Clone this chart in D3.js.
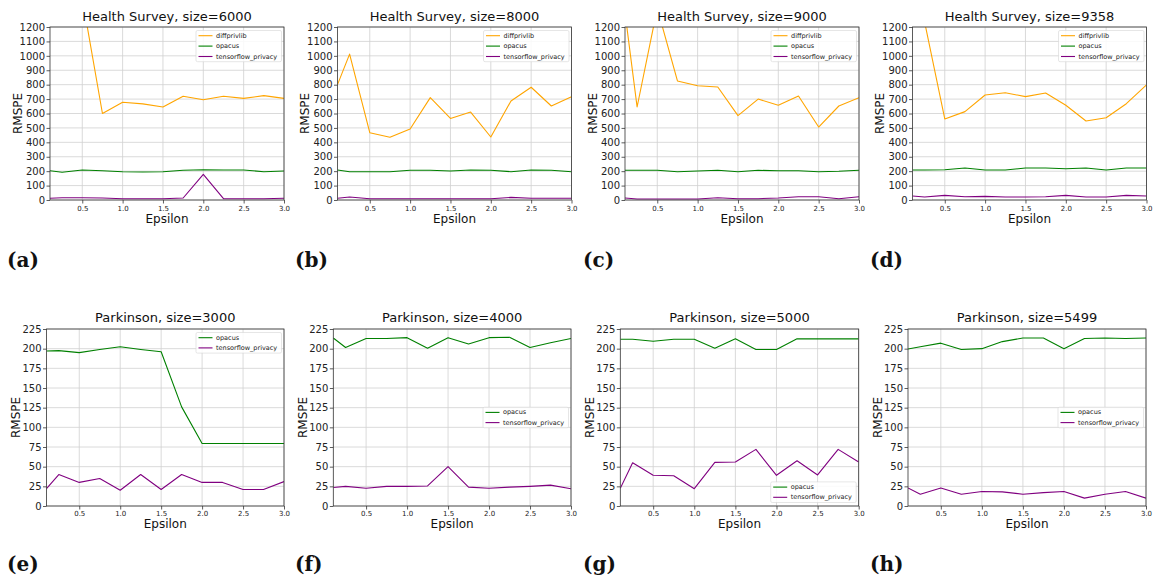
<!DOCTYPE html>
<html>
<head>
<meta charset="utf-8">
<script src="https://cdn.jsdelivr.net/npm/d3@7"></script>
<style>
  body { margin: 0; background: #fff; }
  svg { display: block; font-family: "DejaVu Sans", sans-serif; }
</style>
</head>
<body>
<svg id="fig" width="1153" height="579"></svg>
<script>
// Privacy budgets evaluated for every run
const epsilons = [0.1, 0.25, 0.5, 0.75, 1.0, 1.25, 1.5, 1.75, 2.0, 2.25, 2.5, 2.75, 3.0];

// Health Survey RMSPE per library
const hs6000Diffprivlib = [2400, 1700, 1400, 600, 678, 667, 645, 720, 695, 720, 705, 724, 705];
const hs6000Opacus      = [203, 192, 208, 203, 196, 194, 196, 206, 210, 208, 208, 196, 201];
const hs6000Tf          = [12, 16, 16, 14, 9, 9, 9, 14, 178, 9, 9, 9, 12];

const hs8000Diffprivlib = [800, 1012, 467, 435, 493, 710, 566, 610, 437, 687, 782, 652, 717];
const hs8000Opacus      = [208, 196, 196, 196, 206, 206, 201, 208, 206, 196, 208, 206, 196];
const hs8000Tf          = [12, 21, 9, 9, 9, 9, 9, 9, 9, 18, 12, 12, 12];

const hs9000Diffprivlib = [1300, 645, 1330, 826, 793, 784, 585, 700, 657, 721, 506, 652, 710];
const hs9000Opacus      = [206, 206, 206, 196, 201, 206, 196, 206, 203, 203, 196, 199, 206];
const hs9000Tf          = [14, 7, 7, 7, 7, 16, 9, 9, 14, 23, 23, 9, 23];

const hs9358Diffprivlib = [1600, 1235, 562, 613, 728, 744, 717, 742, 657, 548, 571, 668, 798];
const hs9358Opacus      = [208, 208, 210, 222, 208, 208, 222, 222, 217, 222, 208, 222, 222];
const hs9358Tf          = [28, 21, 32, 23, 25, 21, 21, 23, 32, 21, 21, 32, 28];

// Parkinson RMSPE per library
const pk3000Opacus = [197, 197.5, 195, 199, 202.5, 199, 196, 126, 79.5, 79.5, 79.5, 79.5, 79.5];
const pk3000Tf     = [22, 40, 30, 35, 20, 40, 21, 40, 30, 30, 21, 21, 31];

const pk4000Opacus = [213.5, 201.5, 213, 213, 214, 200.5, 214, 206, 214, 214.5, 201.5, 207.5, 213];
const pk4000Tf     = [23.5, 25, 22.5, 25, 25, 25.5, 50, 24, 22.5, 24, 25, 26.5, 22];

const pk5000Opacus = [212, 212, 209.5, 212, 212, 200.5, 212.5, 199, 199, 212.5, 212.5, 212.5, 212.5];
const pk5000Tf     = [22.5, 55, 39, 38.5, 22, 55.5, 56, 72, 39, 57.5, 39.5, 72, 56];

const pk5499Opacus = [199.5, 202.5, 207, 199, 200, 209, 213.5, 213.5, 200, 213, 213.5, 213, 213.5];
const pk5499Tf     = [23, 15, 23, 15, 18.5, 18, 15, 17, 18.5, 10, 15, 18.5, 10];

// Tick labels
const xTicks = [0.5, 1.0, 1.5, 2.0, 2.5, 3.0];
const hsYTicks = [0, 100, 200, 300, 400, 500, 600, 700, 800, 900, 1000, 1100, 1200];
const pkYTicks = [0, 25, 50, 75, 100, 125, 150, 175, 200, 225];

const colors = { diffprivlib: "#ffa500", opacus: "#008000", tensorflow_privacy: "#800080" };

const panels = [
  { tag: "(a)", title: "Health Survey, size=6000", row: 0, col: 0, legend: "upper right",
    series: [["diffprivlib", hs6000Diffprivlib], ["opacus", hs6000Opacus], ["tensorflow_privacy", hs6000Tf]] },
  { tag: "(b)", title: "Health Survey, size=8000", row: 0, col: 1, legend: "upper right",
    series: [["diffprivlib", hs8000Diffprivlib], ["opacus", hs8000Opacus], ["tensorflow_privacy", hs8000Tf]] },
  { tag: "(c)", title: "Health Survey, size=9000", row: 0, col: 2, legend: "upper right",
    series: [["diffprivlib", hs9000Diffprivlib], ["opacus", hs9000Opacus], ["tensorflow_privacy", hs9000Tf]] },
  { tag: "(d)", title: "Health Survey, size=9358", row: 0, col: 3, legend: "upper right",
    series: [["diffprivlib", hs9358Diffprivlib], ["opacus", hs9358Opacus], ["tensorflow_privacy", hs9358Tf]] },
  { tag: "(e)", title: "Parkinson, size=3000", row: 1, col: 0, legend: "upper right",
    series: [["opacus", pk3000Opacus], ["tensorflow_privacy", pk3000Tf]] },
  { tag: "(f)", title: "Parkinson, size=4000", row: 1, col: 1, legend: "center right",
    series: [["opacus", pk4000Opacus], ["tensorflow_privacy", pk4000Tf]] },
  { tag: "(g)", title: "Parkinson, size=5000", row: 1, col: 2, legend: "lower right",
    series: [["opacus", pk5000Opacus], ["tensorflow_privacy", pk5000Tf]] },
  { tag: "(h)", title: "Parkinson, size=5499", row: 1, col: 3, legend: "center right",
    series: [["opacus", pk5499Opacus], ["tensorflow_privacy", pk5499Tf]] }
];

// Geometry of each row of subplots
const rows = [
  { top: 27, bottom: 200, lefts: [50, 337.5, 625, 912.5], rights: [284, 571.5, 859, 1146.5],
    yTicks: hsYTicks, yFont: 10, xFont: 7, xPad: 2.5, legFont: 6.5, legStep: 10.4,
    tagY: 267, titleY: 21, xLabY: 223, yLabOff: 28.3 },
  { top: 329, bottom: 506, lefts: [46.5, 333.3, 620.3, 908], rights: [284, 571, 858.7, 1146],
    yTicks: pkYTicks, yFont: 10, xFont: 7, xPad: 1.5, legFont: 6.5, legStep: 10.2,
    tagY: 571, titleY: 321.5, xLabY: 527.5, yLabOff: 26.5 }
];
const tagX = [7, 295, 583, 870];

const svg = d3.select("#fig");
const defs = svg.append("defs");

panels.forEach((p, i) => {
  const r = rows[p.row];
  const left = r.lefts[p.col], right = r.rights[p.col];
  const x = d3.scaleLinear().domain([0.1, 3.0]).range([left, right]);
  const yTicks = r.yTicks;
  const y = d3.scaleLinear().domain([0, yTicks[yTicks.length - 1]]).range([r.bottom, r.top]);

  const g = svg.append("g");

  // grid
  g.append("g").selectAll("line").data(xTicks).join("line")
    .attr("x1", d => x(d)).attr("x2", d => x(d))
    .attr("y1", r.top).attr("y2", r.bottom)
    .attr("stroke", "#d0d0d0").attr("stroke-width", 0.8);
  g.append("g").selectAll("line").data(yTicks).join("line")
    .attr("x1", left).attr("x2", right)
    .attr("y1", d => y(d)).attr("y2", d => y(d))
    .attr("stroke", "#d0d0d0").attr("stroke-width", 0.8);

  // lines, clipped to the axes box
  const clipId = "clip" + i;
  defs.append("clipPath").attr("id", clipId).append("rect")
    .attr("x", left).attr("y", r.top).attr("width", right - left).attr("height", r.bottom - r.top);
  const line = d3.line().x((d, k) => x(epsilons[k])).y(d => y(d));
  const lg = g.append("g").attr("clip-path", `url(#${clipId})`);
  p.series.forEach(([name, vals]) => {
    lg.append("path").datum(vals).attr("d", line)
      .attr("fill", "none").attr("stroke", colors[name]).attr("stroke-width", 1.1)
      .attr("stroke-linejoin", "round");
  });

  // axes
  const xAxis = d3.axisBottom(x).tickValues(xTicks).tickFormat(d3.format(".1f")).tickSize(3.5).tickPadding(r.xPad);
  const yAxis = d3.axisLeft(y).tickValues(yTicks).tickFormat(d3.format("d")).tickSize(3.5).tickPadding(1.5);
  const gx = g.append("g").attr("transform", `translate(0,${r.bottom})`).call(xAxis);
  const gy = g.append("g").attr("transform", `translate(${left},0)`).call(yAxis);
  [gx, gy].forEach(a => {
    a.select(".domain").remove();
    a.selectAll(".tick line").attr("stroke", "#333").attr("stroke-width", 0.8);
    a.selectAll("text").attr("fill", "#222").attr("font-family", "DejaVu Sans");
  });
  gx.selectAll("text").attr("font-size", r.xFont);
  gy.selectAll("text").attr("font-size", r.yFont);

  // frame
  g.append("rect").attr("x", left).attr("y", r.top)
    .attr("width", right - left).attr("height", r.bottom - r.top)
    .attr("fill", "none").attr("stroke", "#333").attr("stroke-width", 0.8);

  // title and axis labels
  g.append("text").attr("x", (left + right) / 2).attr("y", r.titleY)
    .attr("text-anchor", "middle").attr("font-size", 13).attr("fill", "#111").text(p.title);
  g.append("text").attr("x", (left + right) / 2).attr("y", r.xLabY)
    .attr("text-anchor", "middle").attr("font-size", 12).attr("fill", "#111").text("Epsilon");
  const yc = (r.top + r.bottom) / 2, xl = left - r.yLabOff;
  g.append("text").attr("transform", `translate(${xl},${yc}) rotate(-90)`)
    .attr("text-anchor", "middle")
    .attr("font-size", 12).attr("fill", "#111").text("RMSPE");

  // legend
  const n = p.series.length;
  const boxW = 85.5, pad = 5.2;
  const boxH = pad * 2 + (n - 1) * r.legStep;
  const boxX = right - 2.5 - boxW;
  let boxY;
  if (p.legend === "upper right") boxY = r.top + 3.5;
  else if (p.legend === "lower right") boxY = r.bottom - 3.5 - boxH;
  else boxY = yc - boxH / 2;
  const leg = g.append("g");
  leg.append("rect").attr("x", boxX).attr("y", boxY).attr("width", boxW).attr("height", boxH)
    .attr("rx", 1.5).attr("fill", "#fff").attr("fill-opacity", 0.85)
    .attr("stroke", "#d5d5d5").attr("stroke-width", 0.6);
  p.series.forEach(([name], k) => {
    const ly = boxY + pad + k * r.legStep;
    leg.append("line").attr("x1", boxX + 2.5).attr("x2", boxX + 16.5)
      .attr("y1", ly).attr("y2", ly).attr("stroke", colors[name]).attr("stroke-width", 1.1);
    leg.append("text").attr("x", boxX + 20).attr("y", ly).attr("dominant-baseline", "central")
      .attr("font-size", r.legFont).attr("fill", "#222").text(name);
  });

  // subfigure tag
  svg.append("text").attr("x", tagX[p.col]).attr("y", r.tagY)
    .attr("font-family", "DejaVu Serif").attr("font-weight", "bold")
    .attr("font-size", 20).attr("fill", "#111").text(p.tag);
});
</script>
</body>
</html>
